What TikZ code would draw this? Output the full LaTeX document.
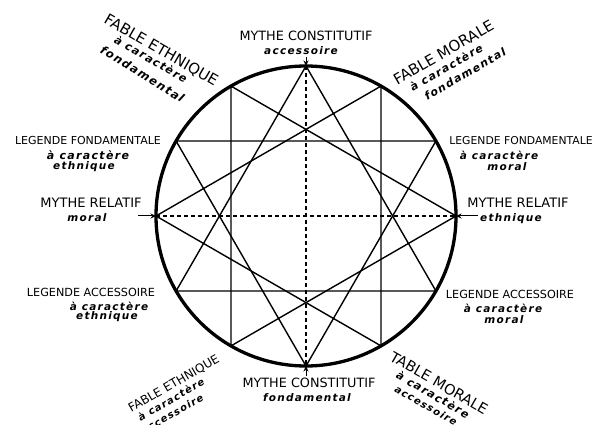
\documentclass[tikz,border=0pt]{standalone}
\usepackage{fontspec}
\setmainfont{DejaVu Sans}
\newfontfamily\capfont{DejaVu Sans}
\newfontfamily\lowfont{DejaVu Sans}[LetterSpace=12]
\usetikzlibrary{arrows.meta}
\begin{document}
\begin{tikzpicture}[x=1pt,y=1pt,
  captext/.style={font=\capfont\fontsize{#1}{#1}\selectfont, inner sep=0pt},
  captext/.default=11.5,
  lowtext/.style={font=\lowfont\fontsize{#1}{#1}\selectfont\bfseries\itshape, inner sep=0pt},
  lowtext/.default=10.5,
  chord/.style={line width=1.4pt},
  diam/.style={line width=1.4pt, dash pattern=on 4pt off 3pt},
  ring/.style={line width=3.3pt},
  pointer/.style={line width=1pt, -{Stealth[length=5.5pt,width=5pt]}}]
\useasboundingbox (0,0) rectangle (598,424);
\fill[white] (0,0) rectangle (598,424);
\coordinate (c) at (306,208);
\foreach \a in {0,30,...,330} \coordinate (p\a) at ([shift={(c)}]\a:150pt);
% diameters
\draw[diam] (p90) -- (p270);
\draw[diam] (p180) -- (p0);
% four triangles
\draw[chord] (p0) -- (p120) -- (p240) -- cycle;
\draw[chord] (p30) -- (p150) -- (p270) -- cycle;
\draw[chord] (p60) -- (p180) -- (p300) -- cycle;
\draw[chord] (p90) -- (p210) -- (p330) -- cycle;
\draw[ring] (c) circle (150pt);
% top
\node[captext=12.8] (t1) at (306,388) {MYTHE CONSTITUTIF};
\node[lowtext] (t2) at (301,373) {accessoire};
\coordinate (ta) at (306,367);
\draw[pointer] (ta) -- (p90);
% bottom
\node[captext=12.8] (b1) at (309,41) {MYTHE CONSTITUTIF};
\node[lowtext] (b2) at (307,26) {fondamental};
\coordinate (ba) at (306,48);
\draw[pointer] (ba) -- (p270);
% left middle
\node[captext=13] (l1) at (91,221) {MYTHE RELATIF};
\node[lowtext] (l2) at (87,206) {moral};
\coordinate (la) at (138,208);
\draw[pointer] (la) -- (p180);
% right middle
\node[captext=13] (r1) at (518,221) {MYTHE RELATIF};
\node[lowtext] (r2) at (511,205) {ethnique};
\coordinate (ra) at (478,208);
\draw[pointer] (ra) -- (p0);
% left upper
\node[captext=11] (lu1) at (88,284) {LEGENDE FONDAMENTALE};
\node[lowtext=11] (lu2) at (88,269) {à caractère};
\node[lowtext] (lu3) at (84,257) {ethnique};
% right upper
\node[captext=10.8] (ru1) at (521,283) {LEGENDE FONDAMENTALE};
\node[lowtext] (ru2) at (499,269) {à caractère};
\node[lowtext] (ru3) at (507,257) {moral};
% left lower
\node[captext=11.2] (ll1) at (91,132) {LEGENDE ACCESSOIRE};
\node[lowtext] (ll2) at (109,118) {à caractère};
\node[lowtext] (ll3) at (107,107) {ethnique};
% right lower
\node[captext=11.2] (rl1) at (510,130) {LEGENDE ACCESSOIRE};
\node[lowtext] (rl2) at (503,116) {à caractère};
\node[lowtext] (rl3) at (504,104) {moral};
% top left (rotated)
\node[captext=15,rotate=-30] (tl1) at (161,373.5) {FABLE ETHNIQUE};
\node[lowtext=11,rotate=-30] (tl2) at (151,365) {à caractère};
\node[lowtext=11.5,rotate=-32] (tl3) at (142.5,350) {fondamental};
% top right (rotated)
\node[captext=15,rotate=30] (tr1) at (443.5,371.5) {FABLE MORALE};
\node[lowtext=11,rotate=30] (tr2) at (446.2,356.5) {à caractère};
\node[lowtext=11,rotate=30] (tr3) at (465,350) {fondamental};
% bottom right (rotated)
\node[captext=14.5,rotate=-30] (br1) at (439,41) {TABLE MORALE};
\node[lowtext=11,rotate=-30] (br2) at (433,29.5) {à caractère};
\node[lowtext=10,rotate=-30] (br3) at (426,18.5) {accessoire};
% bottom left (rotated)
\node[captext=12,rotate=30] (bl1) at (174,40) {FABLE ETHNIQUE};
\node[lowtext=10,rotate=30] (bl2) at (171,24.5) {à caractère};
\node[lowtext=10,rotate=30] (bl3) at (172,10) {accessoire};
\end{tikzpicture}
\end{document}
